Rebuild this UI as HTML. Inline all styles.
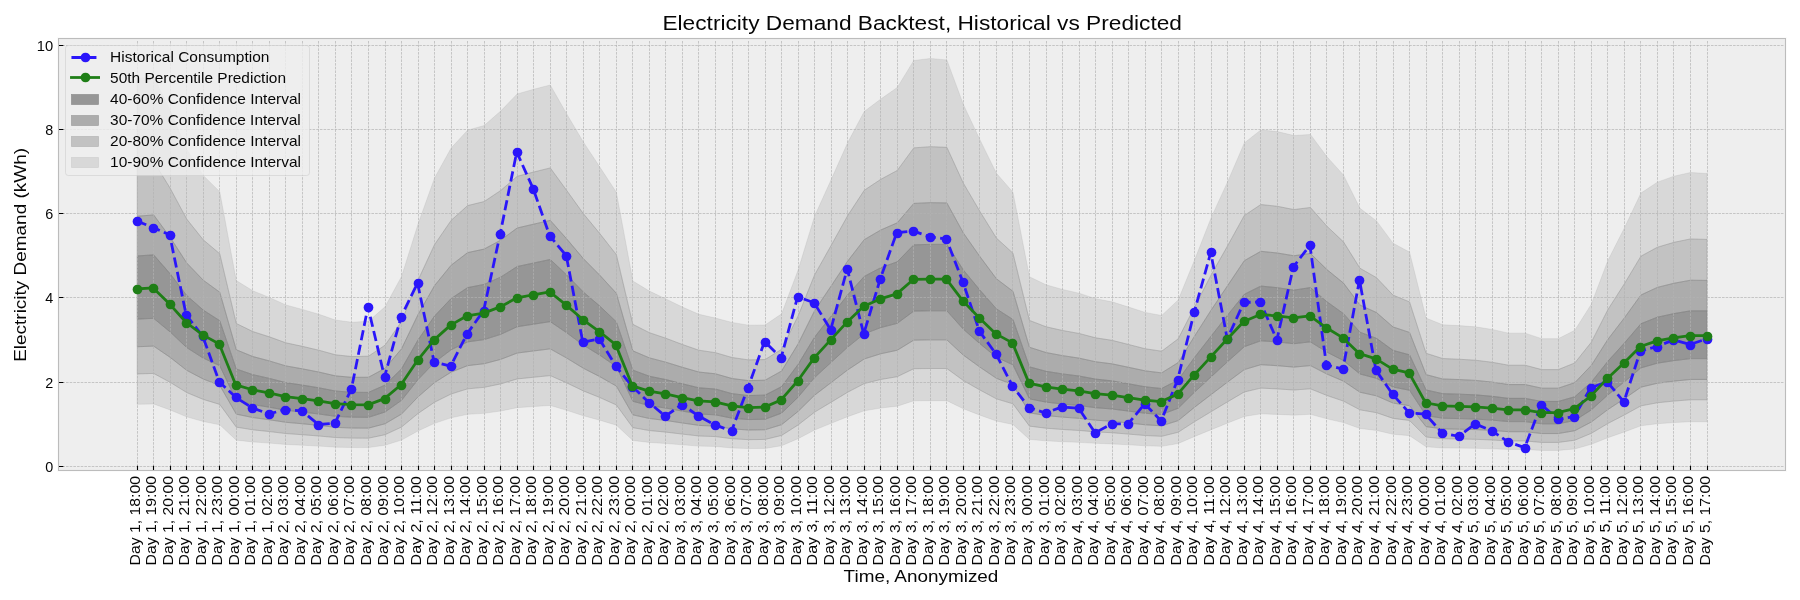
<!DOCTYPE html>
<html lang="en"><head><meta charset="utf-8"><title>Electricity Demand Backtest, Historical vs Predicted</title>
<style>html,body{margin:0;padding:0;background:#fff}body{width:1800px;height:600px;overflow:hidden}svg{display:block}text{font-family:"Liberation Sans",sans-serif;fill:#000}</style>
</head><body>
<svg width="1800" height="600" viewBox="0 0 1800 600">
<rect x="0" y="0" width="1800" height="600" fill="#fff"/>
<rect x="58" y="38" width="1728" height="433" fill="#eee"/>
<g fill="#808080" stroke="#808080" stroke-width="0.69" stroke-linejoin="miter">
<polygon fill-opacity="0.8" stroke-opacity="0.8" points="137.13,255.95 153.66,254.86 170.18,273.81 186.71,295.49 203.23,310.07 219.76,320.69 236.28,368.96 252.81,374.66 269.33,378.38 285.86,382.6 302.38,385.08 318.91,387.81 335.43,391.03 351.96,392.27 368.48,392.42 385.01,385.08 401.53,368.81 418.06,339.93 434.58,315.97 451.11,298.56 467.63,287.6 484.16,284.42 500.68,277.13 517.21,266.51 533.73,262.99 550.26,259.47 566.78,275 583.31,291.96 599.83,306.1 616.36,321.88 632.88,370.15 649.41,376.25 665.93,379.57 682.46,383.79 698.98,387.81 715.51,389 732.03,393.66 748.56,395.55 765.08,395.1 781.61,386.62 798.13,364.34 814.66,337.06 831.18,315.97 847.71,294.79 864.23,276.44 880.76,267.7 897.28,261.8 913.81,244.84 930.33,244.39 946.86,244.39 963.38,270.04 979.91,290.08 996.43,308.88 1012.96,319.5 1029.48,366.82 1046.01,371.29 1062.53,373.92 1079.06,376 1095.58,379.08 1112.11,380.86 1128.63,383.79 1145.16,386.77 1161.68,388.5 1178.21,379.77 1194.73,357.2 1211.26,335.97 1227.78,314.88 1244.31,294.3 1260.83,286.06 1277.36,287.7 1293.88,290.13 1310.41,287.55 1326.93,301.74 1343.46,313.64 1359.98,332.2 1376.51,338.3 1393.03,350.35 1409.56,354.82 1426.08,389.94 1442.61,393.66 1459.13,394.16 1475.66,394.85 1492.18,396.29 1508.71,398.37 1525.23,398.37 1541.76,401.45 1558.28,401.45 1574.81,396.74 1591.33,382.15 1607.86,361.27 1624.38,343.06 1640.91,323.76 1657.43,317.16 1673.96,313.59 1690.48,310.81 1707.01,310.81 1707.01,358.61 1690.48,358.61 1673.96,360.61 1657.43,363.18 1640.91,367.93 1624.38,381.82 1607.86,394.92 1591.33,409.95 1574.81,420.44 1558.28,423.83 1541.76,423.83 1525.23,421.62 1508.71,421.62 1492.18,420.12 1475.66,419.09 1459.13,418.59 1442.61,418.23 1426.08,415.55 1409.56,390.28 1393.03,387.06 1376.51,378.39 1359.98,374 1343.46,360.65 1326.93,352.08 1310.41,341.87 1293.88,343.72 1277.36,341.98 1260.83,340.8 1244.31,346.72 1227.78,361.54 1211.26,376.71 1194.73,391.99 1178.21,408.23 1161.68,414.52 1145.16,413.27 1128.63,411.13 1112.11,409.02 1095.58,407.73 1079.06,405.52 1062.53,404.02 1046.01,402.13 1029.48,398.92 1012.96,364.86 996.43,357.22 979.91,343.69 963.38,329.27 946.86,310.81 930.33,310.81 913.81,311.13 897.28,323.34 880.76,327.59 864.23,333.87 847.71,347.08 831.18,362.32 814.66,377.5 798.13,397.13 781.61,413.16 765.08,419.27 748.56,419.59 732.03,418.23 715.51,414.87 698.98,414.02 682.46,411.13 665.93,408.09 649.41,405.7 632.88,401.31 616.36,366.57 599.83,355.22 583.31,345.05 566.78,332.84 550.26,321.66 533.73,324.2 517.21,326.73 500.68,334.37 484.16,339.62 467.63,341.9 451.11,349.79 434.58,362.32 418.06,379.57 401.53,400.34 385.01,412.05 368.48,417.34 351.96,417.23 335.43,416.34 318.91,414.02 302.38,412.05 285.86,410.27 269.33,407.23 252.81,404.56 236.28,400.45 219.76,365.72 203.23,358.08 186.71,347.58 170.18,331.98 153.66,318.34 137.13,319.13"/>
<polygon fill-opacity="0.6" stroke-opacity="0.6" points="137.13,319.13 153.66,318.34 170.18,331.98 186.71,347.58 203.23,358.08 219.76,365.72 236.28,400.45 252.81,404.56 269.33,407.23 285.86,410.27 302.38,412.05 318.91,414.02 335.43,416.34 351.96,417.23 368.48,417.34 385.01,412.05 401.53,400.34 418.06,379.57 434.58,362.32 451.11,349.79 467.63,341.9 484.16,339.62 500.68,334.37 517.21,326.73 533.73,324.2 550.26,321.66 566.78,332.84 583.31,345.05 599.83,355.22 616.36,366.57 632.88,401.31 649.41,405.7 665.93,408.09 682.46,411.13 698.98,414.02 715.51,414.87 732.03,418.23 748.56,419.59 765.08,419.27 781.61,413.16 798.13,397.13 814.66,377.5 831.18,362.32 847.71,347.08 864.23,333.87 880.76,327.59 897.28,323.34 913.81,311.13 930.33,310.81 946.86,310.81 963.38,329.27 979.91,343.69 996.43,357.22 1012.96,364.86 1029.48,398.92 1046.01,402.13 1062.53,404.02 1079.06,405.52 1095.58,407.73 1112.11,409.02 1128.63,411.13 1145.16,413.27 1161.68,414.52 1178.21,408.23 1194.73,391.99 1211.26,376.71 1227.78,361.54 1244.31,346.72 1260.83,340.8 1277.36,341.98 1293.88,343.72 1310.41,341.87 1326.93,352.08 1343.46,360.65 1359.98,374 1376.51,378.39 1393.03,387.06 1409.56,390.28 1426.08,415.55 1442.61,418.23 1459.13,418.59 1475.66,419.09 1492.18,420.12 1508.71,421.62 1525.23,421.62 1541.76,423.83 1558.28,423.83 1574.81,420.44 1591.33,409.95 1607.86,394.92 1624.38,381.82 1640.91,367.93 1657.43,363.18 1673.96,360.61 1690.48,358.61 1707.01,358.61 1707.01,379.48 1690.48,379.48 1673.96,381.13 1657.43,383.26 1640.91,387.2 1624.38,398.71 1607.86,409.57 1591.33,422.03 1574.81,430.72 1558.28,433.54 1541.76,433.54 1525.23,431.7 1508.71,431.7 1492.18,430.46 1475.66,429.6 1459.13,429.19 1442.61,428.89 1426.08,426.67 1409.56,405.72 1393.03,403.06 1376.51,395.87 1359.98,392.23 1343.46,381.16 1326.93,374.06 1310.41,365.6 1293.88,367.14 1277.36,365.69 1260.83,364.71 1244.31,369.62 1227.78,381.9 1211.26,394.48 1194.73,407.14 1178.21,420.61 1161.68,425.81 1145.16,424.78 1128.63,423 1112.11,421.26 1095.58,420.19 1079.06,418.36 1062.53,417.11 1046.01,415.55 1029.48,412.88 1012.96,384.66 996.43,378.32 979.91,367.11 963.38,355.16 946.86,339.86 930.33,339.86 913.81,340.13 897.28,350.24 880.76,353.77 864.23,358.97 847.71,369.92 831.18,382.55 814.66,395.13 798.13,411.4 781.61,424.69 765.08,429.75 748.56,430.01 732.03,428.89 715.51,426.11 698.98,425.4 682.46,423 665.93,420.49 649.41,418.5 632.88,414.87 616.36,386.08 599.83,376.67 583.31,368.23 566.78,358.11 550.26,348.85 533.73,350.95 517.21,353.06 500.68,359.39 484.16,363.74 467.63,365.63 451.11,372.17 434.58,382.55 418.06,396.85 401.53,414.07 385.01,423.77 368.48,428.15 351.96,428.06 335.43,427.32 318.91,425.4 302.38,423.77 285.86,422.29 269.33,419.78 252.81,417.56 236.28,414.15 219.76,385.37 203.23,379.03 186.71,370.33 170.18,357.4 153.66,346.1 137.13,346.75"/>
<polygon fill-opacity="0.6" stroke-opacity="0.6" points="137.13,216.23 153.66,214.94 170.18,237.33 186.71,262.95 203.23,280.19 219.76,292.23 236.28,349.78 252.81,356.52 269.33,360.92 285.86,365.9 302.38,368.83 318.91,372.06 335.43,375.87 351.96,377.34 368.48,377.26 385.01,368.33 401.53,348.85 418.06,314.56 434.58,285.56 451.11,265.24 467.63,252.62 484.16,249.08 500.68,240.16 517.21,227.99 533.73,224.15 550.26,220.39 566.78,238.99 583.31,258.57 599.83,275.25 616.36,293.3 632.88,350.85 649.41,357.89 665.93,362.21 682.46,367.31 698.98,372.06 715.51,373.8 732.03,378.51 748.56,380.62 765.08,380.21 781.61,370.99 798.13,343.86 814.66,310.57 831.18,285.9 847.71,261.04 864.23,239.68 880.76,230 897.28,222.81 913.81,203.43 930.33,202.65 946.86,202.94 963.38,233.01 979.91,256.56 996.43,278.78 1012.96,291.33 1029.48,347.26 1046.01,352.54 1062.53,355.64 1079.06,358.11 1095.58,361.74 1112.11,363.85 1128.63,367.31 1145.16,370.83 1161.68,372.88 1178.21,362.56 1194.73,335.89 1211.26,309.95 1227.78,285.37 1244.31,260.7 1260.83,251.31 1277.36,252.99 1293.88,255.78 1310.41,253.44 1326.93,269.58 1343.46,283.06 1359.98,305.01 1376.51,312.56 1393.03,326.95 1409.56,332.43 1426.08,374.58 1442.61,378.98 1459.13,379.56 1475.66,380.38 1492.18,382.08 1508.71,384.55 1525.23,384.55 1541.76,388.18 1558.28,388.18 1574.81,382.61 1591.33,365.38 1607.86,339.43 1624.38,317.91 1640.91,295.02 1657.43,287.39 1673.96,283.26 1690.48,280.23 1707.01,280.43 1707.01,310.81 1690.48,310.81 1673.96,313.59 1657.43,317.16 1640.91,323.76 1624.38,343.06 1607.86,361.27 1591.33,382.15 1574.81,396.74 1558.28,401.45 1541.76,401.45 1525.23,398.37 1508.71,398.37 1492.18,396.29 1475.66,394.85 1459.13,394.16 1442.61,393.66 1426.08,389.94 1409.56,354.82 1393.03,350.35 1376.51,338.3 1359.98,332.2 1343.46,313.64 1326.93,301.74 1310.41,287.55 1293.88,290.13 1277.36,287.7 1260.83,286.06 1244.31,294.3 1227.78,314.88 1211.26,335.97 1194.73,357.2 1178.21,379.77 1161.68,388.5 1145.16,386.77 1128.63,383.79 1112.11,380.86 1095.58,379.08 1079.06,376 1062.53,373.92 1046.01,371.29 1029.48,366.82 1012.96,319.5 996.43,308.88 979.91,290.08 963.38,270.04 946.86,244.39 930.33,244.39 913.81,244.84 897.28,261.8 880.76,267.7 864.23,276.44 847.71,294.79 831.18,315.97 814.66,337.06 798.13,364.34 781.61,386.62 765.08,395.1 748.56,395.55 732.03,393.66 715.51,389 698.98,387.81 682.46,383.79 665.93,379.57 649.41,376.25 632.88,370.15 616.36,321.88 599.83,306.1 583.31,291.96 566.78,275 550.26,259.47 533.73,262.99 517.21,266.51 500.68,277.13 484.16,284.42 467.63,287.6 451.11,298.56 434.58,315.97 418.06,339.93 401.53,368.81 385.01,385.08 368.48,392.42 351.96,392.27 335.43,391.03 318.91,387.81 302.38,385.08 285.86,382.6 269.33,378.38 252.81,374.66 236.28,368.96 219.76,320.69 203.23,310.07 186.71,295.49 170.18,273.81 153.66,254.86 137.13,255.95"/>
<polygon fill-opacity="0.4" stroke-opacity="0.4" points="137.13,346.75 153.66,346.1 170.18,357.4 186.71,370.33 203.23,379.03 219.76,385.37 236.28,414.15 252.81,417.56 269.33,419.78 285.86,422.29 302.38,423.77 318.91,425.4 335.43,427.32 351.96,428.06 368.48,428.15 385.01,423.77 401.53,414.07 418.06,396.85 434.58,382.55 451.11,372.17 467.63,365.63 484.16,363.74 500.68,359.39 517.21,353.06 533.73,350.95 550.26,348.85 566.78,358.11 583.31,368.23 599.83,376.67 616.36,386.08 632.88,414.87 649.41,418.5 665.93,420.49 682.46,423 698.98,425.4 715.51,426.11 732.03,428.89 748.56,430.01 765.08,429.75 781.61,424.69 798.13,411.4 814.66,395.13 831.18,382.55 847.71,369.92 864.23,358.97 880.76,353.77 897.28,350.24 913.81,340.13 930.33,339.86 946.86,339.86 963.38,355.16 979.91,367.11 996.43,378.32 1012.96,384.66 1029.48,412.88 1046.01,415.55 1062.53,417.11 1079.06,418.36 1095.58,420.19 1112.11,421.26 1128.63,423 1145.16,424.78 1161.68,425.81 1178.21,420.61 1194.73,407.14 1211.26,394.48 1227.78,381.9 1244.31,369.62 1260.83,364.71 1277.36,365.69 1293.88,367.14 1310.41,365.6 1326.93,374.06 1343.46,381.16 1359.98,392.23 1376.51,395.87 1393.03,403.06 1409.56,405.72 1426.08,426.67 1442.61,428.89 1459.13,429.19 1475.66,429.6 1492.18,430.46 1508.71,431.7 1525.23,431.7 1541.76,433.54 1558.28,433.54 1574.81,430.72 1591.33,422.03 1607.86,409.57 1624.38,398.71 1640.91,387.2 1657.43,383.26 1673.96,381.13 1690.48,379.48 1707.01,379.48 1707.01,399.77 1690.48,399.77 1673.96,401.07 1657.43,402.75 1640.91,405.86 1624.38,414.94 1607.86,423.51 1591.33,433.34 1574.81,440.21 1558.28,442.43 1541.76,442.43 1525.23,440.98 1508.71,440.98 1492.18,440 1475.66,439.32 1459.13,438.99 1442.61,438.76 1426.08,437.01 1409.56,420.48 1393.03,418.38 1376.51,412.7 1359.98,409.83 1343.46,401.1 1326.93,395.49 1310.41,388.81 1293.88,390.03 1277.36,388.88 1260.83,388.11 1244.31,391.99 1227.78,401.68 1211.26,411.6 1194.73,421.6 1178.21,432.22 1161.68,436.33 1145.16,435.52 1128.63,434.11 1112.11,432.74 1095.58,431.9 1079.06,430.45 1062.53,429.47 1046.01,428.23 1029.48,426.13 1012.96,403.85 996.43,398.86 979.91,390.01 963.38,380.57 946.86,368.5 930.33,368.5 913.81,368.71 897.28,376.7 880.76,379.47 864.23,383.58 847.71,392.22 831.18,402.19 814.66,412.12 798.13,424.96 781.61,435.45 765.08,439.44 748.56,439.65 732.03,438.76 715.51,436.57 698.98,436.01 682.46,434.11 665.93,432.13 649.41,430.56 632.88,427.69 616.36,404.97 599.83,397.55 583.31,390.89 566.78,382.91 550.26,375.6 533.73,377.26 517.21,378.91 500.68,383.91 484.16,387.34 467.63,388.84 451.11,394 434.58,402.19 418.06,413.47 401.53,427.06 385.01,434.72 368.48,438.18 351.96,438.11 335.43,437.52 318.91,436.01 302.38,434.72 285.86,433.55 269.33,431.57 252.81,429.82 236.28,427.13 219.76,404.41 203.23,399.42 186.71,392.55 170.18,382.35 153.66,373.43 137.13,373.94"/>
<polygon fill-opacity="0.4" stroke-opacity="0.4" points="137.13,162.91 153.66,161.36 170.18,188.28 186.71,219.07 203.23,239.79 219.76,253.73 236.28,323.44 252.81,331.55 269.33,336.83 285.86,342.82 302.38,346.34 318.91,350.22 335.43,354.8 351.96,356.56 368.48,356.21 385.01,345.21 401.53,321.52 418.06,280.13 434.58,244.57 451.11,220.41 467.63,205.59 484.16,201.55 500.68,190.53 517.21,176.29 533.73,172.02 550.26,167.91 566.78,190.54 583.31,213.58 599.83,233.58 616.36,254.67 632.88,324.37 649.41,332.66 665.93,338.26 682.46,344.51 698.98,350.22 715.51,352.67 732.03,357.49 748.56,359.89 765.08,359.54 781.61,349.29 798.13,315.83 814.66,274.71 831.18,245.33 847.71,215.62 864.23,190.3 880.76,179.34 897.28,170.46 913.81,147.88 930.33,146.68 946.86,147.34 963.38,183.22 979.91,211.39 996.43,238.1 1012.96,253.18 1029.48,320.41 1046.01,326.75 1062.53,330.49 1079.06,333.45 1095.58,337.82 1112.11,340.35 1128.63,344.51 1145.16,348.74 1161.68,351.21 1178.21,338.8 1194.73,306.74 1211.26,274.68 1227.78,245.49 1244.31,215.48 1260.83,204.54 1277.36,206.3 1293.88,209.56 1310.41,207.49 1326.93,226.24 1343.46,241.83 1359.98,268.24 1376.51,277.67 1393.03,295.12 1409.56,301.92 1426.08,353.25 1442.61,358.54 1459.13,359.24 1475.66,360.23 1492.18,362.27 1508.71,365.23 1525.23,365.23 1541.76,369.6 1558.28,369.6 1574.81,362.91 1591.33,342.19 1607.86,309.67 1624.38,283.81 1640.91,256.21 1657.43,247.21 1673.96,242.33 1690.48,238.95 1707.01,239.41 1707.01,280.43 1690.48,280.23 1673.96,283.26 1657.43,287.39 1640.91,295.02 1624.38,317.91 1607.86,339.43 1591.33,365.38 1574.81,382.61 1558.28,388.18 1541.76,388.18 1525.23,384.55 1508.71,384.55 1492.18,382.08 1475.66,380.38 1459.13,379.56 1442.61,378.98 1426.08,374.58 1409.56,332.43 1393.03,326.95 1376.51,312.56 1359.98,305.01 1343.46,283.06 1326.93,269.58 1310.41,253.44 1293.88,255.78 1277.36,252.99 1260.83,251.31 1244.31,260.7 1227.78,285.37 1211.26,309.95 1194.73,335.89 1178.21,362.56 1161.68,372.88 1145.16,370.83 1128.63,367.31 1112.11,363.85 1095.58,361.74 1079.06,358.11 1062.53,355.64 1046.01,352.54 1029.48,347.26 1012.96,291.33 996.43,278.78 979.91,256.56 963.38,233.01 946.86,202.94 930.33,202.65 913.81,203.43 897.28,222.81 880.76,230 864.23,239.68 847.71,261.04 831.18,285.9 814.66,310.57 798.13,343.86 781.61,370.99 765.08,380.21 748.56,380.62 732.03,378.51 715.51,373.8 698.98,372.06 682.46,367.31 665.93,362.21 649.41,357.89 632.88,350.85 616.36,293.3 599.83,275.25 583.31,258.57 566.78,238.99 550.26,220.39 533.73,224.15 517.21,227.99 500.68,240.16 484.16,249.08 467.63,252.62 451.11,265.24 434.58,285.56 418.06,314.56 401.53,348.85 385.01,368.33 368.48,377.26 351.96,377.34 335.43,375.87 318.91,372.06 302.38,368.83 285.86,365.9 269.33,360.92 252.81,356.52 236.28,349.78 219.76,292.23 203.23,280.19 186.71,262.95 170.18,237.33 153.66,214.94 137.13,216.23"/>
<polygon fill-opacity="0.2" stroke-opacity="0.2" points="137.13,373.94 153.66,373.43 170.18,382.35 186.71,392.55 203.23,399.42 219.76,404.41 236.28,427.13 252.81,429.82 269.33,431.57 285.86,433.55 302.38,434.72 318.91,436.01 335.43,437.52 351.96,438.11 368.48,438.18 385.01,434.72 401.53,427.06 418.06,413.47 434.58,402.19 451.11,394 467.63,388.84 484.16,387.34 500.68,383.91 517.21,378.91 533.73,377.26 550.26,375.6 566.78,382.91 583.31,390.89 599.83,397.55 616.36,404.97 632.88,427.69 649.41,430.56 665.93,432.13 682.46,434.11 698.98,436.01 715.51,436.57 732.03,438.76 748.56,439.65 765.08,439.44 781.61,435.45 798.13,424.96 814.66,412.12 831.18,402.19 847.71,392.22 864.23,383.58 880.76,379.47 897.28,376.7 913.81,368.71 930.33,368.5 946.86,368.5 963.38,380.57 979.91,390.01 996.43,398.86 1012.96,403.85 1029.48,426.13 1046.01,428.23 1062.53,429.47 1079.06,430.45 1095.58,431.9 1112.11,432.74 1128.63,434.11 1145.16,435.52 1161.68,436.33 1178.21,432.22 1194.73,421.6 1211.26,411.6 1227.78,401.68 1244.31,391.99 1260.83,388.11 1277.36,388.88 1293.88,390.03 1310.41,388.81 1326.93,395.49 1343.46,401.1 1359.98,409.83 1376.51,412.7 1393.03,418.38 1409.56,420.48 1426.08,437.01 1442.61,438.76 1459.13,438.99 1475.66,439.32 1492.18,440 1508.71,440.98 1525.23,440.98 1541.76,442.43 1558.28,442.43 1574.81,440.21 1591.33,433.34 1607.86,423.51 1624.38,414.94 1640.91,405.86 1657.43,402.75 1673.96,401.07 1690.48,399.77 1707.01,399.77 1707.01,421.71 1690.48,421.71 1673.96,422.59 1657.43,423.72 1640.91,425.81 1624.38,431.93 1607.86,437.7 1591.33,444.31 1574.81,448.94 1558.28,450.43 1541.76,450.43 1525.23,449.45 1508.71,449.45 1492.18,448.79 1475.66,448.34 1459.13,448.12 1442.61,447.96 1426.08,446.78 1409.56,435.65 1393.03,434.24 1376.51,430.42 1359.98,428.48 1343.46,422.6 1326.93,418.83 1310.41,414.33 1293.88,415.15 1277.36,414.38 1260.83,413.86 1244.31,416.47 1227.78,423 1211.26,429.68 1194.73,436.41 1178.21,443.56 1161.68,446.33 1145.16,445.78 1128.63,444.83 1112.11,443.91 1095.58,443.34 1079.06,442.36 1062.53,441.7 1046.01,440.87 1029.48,439.46 1012.96,424.46 996.43,421.09 979.91,415.14 963.38,408.78 946.86,400.66 930.33,400.66 913.81,400.8 897.28,406.17 880.76,408.04 864.23,410.81 847.71,416.63 831.18,423.34 814.66,430.02 798.13,438.67 781.61,445.73 765.08,448.42 748.56,448.56 732.03,447.96 715.51,446.48 698.98,446.11 682.46,444.83 665.93,443.5 649.41,442.44 632.88,440.51 616.36,425.21 599.83,420.21 583.31,415.73 566.78,410.36 550.26,405.44 533.73,406.55 517.21,407.67 500.68,411.03 484.16,413.34 467.63,414.35 451.11,417.82 434.58,423.34 418.06,430.94 401.53,440.08 385.01,445.24 368.48,447.57 351.96,447.52 335.43,447.13 318.91,446.11 302.38,445.24 285.86,444.46 269.33,443.12 252.81,441.94 236.28,440.13 219.76,424.84 203.23,421.47 186.71,416.85 170.18,409.98 153.66,403.97 137.13,404.32"/>
<polygon fill-opacity="0.2" stroke-opacity="0.2" points="137.13,78.67 153.66,76.72 170.18,110.58 186.71,149.32 203.23,175.38 219.76,191.82 236.28,280.59 252.81,290.78 269.33,297.43 285.86,304.97 302.38,309.4 318.91,314.27 335.43,320.03 351.96,322.25 368.48,321.25 385.01,306.87 401.53,276.53 418.06,224.1 434.58,177.92 451.11,148.07 467.63,130.17 484.16,125.55 500.68,111.04 517.21,93.93 533.73,89.28 550.26,84.97 566.78,113.97 583.31,141.93 599.83,167.02 616.36,192.26 632.88,281.03 649.41,291.09 665.93,298.97 682.46,307.09 698.98,314.27 715.51,318.09 732.03,322.41 748.56,325.15 765.08,324.98 781.61,313.83 798.13,269.99 814.66,216.01 831.18,179.6 847.71,142.6 864.23,111.49 880.76,99.09 897.28,87.45 913.81,60.5 930.33,58.44 946.86,59.92 963.38,104.52 979.91,139.66 996.43,173.25 1012.96,192.22 1029.48,276.78 1046.01,284.76 1062.53,289.45 1079.06,293.18 1095.58,298.67 1112.11,301.86 1128.63,307.09 1145.16,312.41 1161.68,315.51 1178.21,299.91 1194.73,259.58 1211.26,217.43 1227.78,181.45 1244.31,142.97 1260.83,129.95 1277.36,131.61 1293.88,135.53 1310.41,134.46 1326.93,156.69 1343.46,175.01 1359.98,208.29 1376.51,220.88 1393.03,243.14 1409.56,252.12 1426.08,318.08 1442.61,324.73 1459.13,325.62 1475.66,326.86 1492.18,329.43 1508.71,333.15 1525.23,333.15 1541.76,338.65 1558.28,338.65 1574.81,330.23 1591.33,304.17 1607.86,260.53 1624.38,228 1640.91,193.1 1657.43,182.15 1673.96,176.19 1690.48,172.49 1707.01,173.5 1707.01,239.41 1690.48,238.95 1673.96,242.33 1657.43,247.21 1640.91,256.21 1624.38,283.81 1607.86,309.67 1591.33,342.19 1574.81,362.91 1558.28,369.6 1541.76,369.6 1525.23,365.23 1508.71,365.23 1492.18,362.27 1475.66,360.23 1459.13,359.24 1442.61,358.54 1426.08,353.25 1409.56,301.92 1393.03,295.12 1376.51,277.67 1359.98,268.24 1343.46,241.83 1326.93,226.24 1310.41,207.49 1293.88,209.56 1277.36,206.3 1260.83,204.54 1244.31,215.48 1227.78,245.49 1211.26,274.68 1194.73,306.74 1178.21,338.8 1161.68,351.21 1145.16,348.74 1128.63,344.51 1112.11,340.35 1095.58,337.82 1079.06,333.45 1062.53,330.49 1046.01,326.75 1029.48,320.41 1012.96,253.18 996.43,238.1 979.91,211.39 963.38,183.22 946.86,147.34 930.33,146.68 913.81,147.88 897.28,170.46 880.76,179.34 864.23,190.3 847.71,215.62 831.18,245.33 814.66,274.71 798.13,315.83 781.61,349.29 765.08,359.54 748.56,359.89 732.03,357.49 715.51,352.67 698.98,350.22 682.46,344.51 665.93,338.26 649.41,332.66 632.88,324.37 616.36,254.67 599.83,233.58 583.31,213.58 566.78,190.54 550.26,167.91 533.73,172.02 517.21,176.29 500.68,190.53 484.16,201.55 467.63,205.59 451.11,220.41 434.58,244.57 418.06,280.13 401.53,321.52 385.01,345.21 368.48,356.21 351.96,356.56 335.43,354.8 318.91,350.22 302.38,346.34 285.86,342.82 269.33,336.83 252.81,331.55 236.28,323.44 219.76,253.73 203.23,239.79 186.71,219.07 170.18,188.28 153.66,161.36 137.13,162.91"/>
</g>
<g stroke="#b2b2b2" stroke-width="0.69" stroke-dasharray="2.57 1.11" fill="none">
<path d="M137.5 470.45V37.9M153.5 470.45V37.9M170.5 470.45V37.9M186.5 470.45V37.9M203.5 470.45V37.9M219.5 470.45V37.9M236.5 470.45V37.9M252.5 470.45V37.9M269.5 470.45V37.9M285.5 470.45V37.9M302.5 470.45V37.9M318.5 470.45V37.9M335.5 470.45V37.9M351.5 470.45V37.9M368.5 470.45V37.9M385.5 470.45V37.9M401.5 470.45V37.9M418.5 470.45V37.9M434.5 470.45V37.9M451.5 470.45V37.9M467.5 470.45V37.9M484.5 470.45V37.9M500.5 470.45V37.9M517.5 470.45V37.9M533.5 470.45V37.9M550.5 470.45V37.9M566.5 470.45V37.9M583.5 470.45V37.9M599.5 470.45V37.9M616.5 470.45V37.9M632.5 470.45V37.9M649.5 470.45V37.9M665.5 470.45V37.9M682.5 470.45V37.9M698.5 470.45V37.9M715.5 470.45V37.9M732.5 470.45V37.9M748.5 470.45V37.9M765.5 470.45V37.9M781.5 470.45V37.9M798.5 470.45V37.9M814.5 470.45V37.9M831.5 470.45V37.9M847.5 470.45V37.9M864.5 470.45V37.9M880.5 470.45V37.9M897.5 470.45V37.9M913.5 470.45V37.9M930.5 470.45V37.9M946.5 470.45V37.9M963.5 470.45V37.9M979.5 470.45V37.9M996.5 470.45V37.9M1012.5 470.45V37.9M1029.5 470.45V37.9M1046.5 470.45V37.9M1062.5 470.45V37.9M1079.5 470.45V37.9M1095.5 470.45V37.9M1112.5 470.45V37.9M1128.5 470.45V37.9M1145.5 470.45V37.9M1161.5 470.45V37.9M1178.5 470.45V37.9M1194.5 470.45V37.9M1211.5 470.45V37.9M1227.5 470.45V37.9M1244.5 470.45V37.9M1260.5 470.45V37.9M1277.5 470.45V37.9M1293.5 470.45V37.9M1310.5 470.45V37.9M1326.5 470.45V37.9M1343.5 470.45V37.9M1359.5 470.45V37.9M1376.5 470.45V37.9M1393.5 470.45V37.9M1409.5 470.45V37.9M1426.5 470.45V37.9M1442.5 470.45V37.9M1459.5 470.45V37.9M1475.5 470.45V37.9M1492.5 470.45V37.9M1508.5 470.45V37.9M1525.5 470.45V37.9M1541.5 470.45V37.9M1558.5 470.45V37.9M1574.5 470.45V37.9M1591.5 470.45V37.9M1607.5 470.45V37.9M1624.5 470.45V37.9M1640.5 470.45V37.9M1657.5 470.45V37.9M1673.5 470.45V37.9M1690.5 470.45V37.9M1707.5 470.45V37.9M58.65 466.5H1785M58.65 382.5H1785M58.65 297.5H1785M58.65 213.5H1785M58.65 129.5H1785M58.65 45.5H1785"/>
</g>
<path d="M136.63 221.05L153.16 227.5L169.68 234.88L186.21 315.08L202.73 336.24L219.26 381.76L235.78 397.36L252.31 407.94L268.83 413.92L285.36 409.54L301.88 410.93L318.41 424.54L334.93 423.15L351.46 388.72L367.98 306.91L384.51 376.92L401.03 316.9L417.56 283.01L434.08 361.95L450.61 366.17L467.13 333.71L483.66 310.53L500.18 233.86L516.71 152.05L533.23 188.85L549.76 235.89L566.28 255.74L582.81 342.1L599.33 338.9L615.86 366.17L632.38 386.53L648.91 402.54L665.43 416.16L681.96 404.52L698.48 415.95L715.01 424.92L731.53 430.95L748.06 387.54L764.58 341.51L781.11 357.74L797.63 296.71L814.16 302.82L830.68 329.71L847.21 268.89L863.73 333.88L880.26 278.88L896.78 232.56L913.31 231.08L929.83 236.77L946.36 239.05L962.88 281.87L979.41 331.19L995.93 353.9L1012.46 385.94L1028.98 407.52L1045.51 412.95L1062.03 406.93L1078.56 408.15L1095.08 432.76L1111.61 423.95L1128.13 423.95L1144.66 403.76L1161.18 420.96L1177.71 379.53L1194.23 312.09L1210.76 252.45L1227.28 338.9L1243.81 302.48L1260.33 301.89L1276.86 339.91L1293.38 266.87L1309.91 245.2L1326.43 364.9L1342.96 369.12L1359.48 279.89L1376.01 370.38L1392.53 394.11L1409.06 412.74L1425.58 414.22L1442.11 433.06L1458.63 436.26L1475.16 423.95L1491.68 430.53L1508.21 441.95L1524.73 447.56L1541.26 404.52L1557.78 419.15L1574.31 416.54L1590.83 387.54L1607.36 381.93L1623.88 401.95L1640.41 350.91L1656.93 346.53L1673.46 339.91L1689.98 344.5L1706.51 338.9" fill="none" stroke="rgb(42,22,250)" stroke-width="2.78" stroke-dasharray="10.28 4.44" stroke-linejoin="round"/>
<g fill="rgb(42,22,250)">
<circle cx="137.5" cy="221.5" r="4.86"/>
<circle cx="153.5" cy="228.5" r="4.86"/>
<circle cx="170.5" cy="235.5" r="4.86"/>
<circle cx="186.5" cy="315.5" r="4.86"/>
<circle cx="203.5" cy="336.5" r="4.86"/>
<circle cx="219.5" cy="382.5" r="4.86"/>
<circle cx="236.5" cy="397.5" r="4.86"/>
<circle cx="252.5" cy="408.5" r="4.86"/>
<circle cx="269.5" cy="414.5" r="4.86"/>
<circle cx="285.5" cy="410.5" r="4.86"/>
<circle cx="302.5" cy="411.5" r="4.86"/>
<circle cx="318.5" cy="425.5" r="4.86"/>
<circle cx="335.5" cy="423.5" r="4.86"/>
<circle cx="351.5" cy="389.5" r="4.86"/>
<circle cx="368.5" cy="307.5" r="4.86"/>
<circle cx="385.5" cy="377.5" r="4.86"/>
<circle cx="401.5" cy="317.5" r="4.86"/>
<circle cx="418.5" cy="283.5" r="4.86"/>
<circle cx="434.5" cy="362.5" r="4.86"/>
<circle cx="451.5" cy="366.5" r="4.86"/>
<circle cx="467.5" cy="334.5" r="4.86"/>
<circle cx="484.5" cy="311.5" r="4.86"/>
<circle cx="500.5" cy="234.5" r="4.86"/>
<circle cx="517.5" cy="152.5" r="4.86"/>
<circle cx="533.5" cy="189.5" r="4.86"/>
<circle cx="550.5" cy="236.5" r="4.86"/>
<circle cx="566.5" cy="256.5" r="4.86"/>
<circle cx="583.5" cy="342.5" r="4.86"/>
<circle cx="599.5" cy="339.5" r="4.86"/>
<circle cx="616.5" cy="366.5" r="4.86"/>
<circle cx="632.5" cy="387.5" r="4.86"/>
<circle cx="649.5" cy="403.5" r="4.86"/>
<circle cx="665.5" cy="416.5" r="4.86"/>
<circle cx="682.5" cy="405.5" r="4.86"/>
<circle cx="698.5" cy="416.5" r="4.86"/>
<circle cx="715.5" cy="425.5" r="4.86"/>
<circle cx="732.5" cy="431.5" r="4.86"/>
<circle cx="748.5" cy="388.5" r="4.86"/>
<circle cx="765.5" cy="342.5" r="4.86"/>
<circle cx="781.5" cy="358.5" r="4.86"/>
<circle cx="798.5" cy="297.5" r="4.86"/>
<circle cx="814.5" cy="303.5" r="4.86"/>
<circle cx="831.5" cy="330.5" r="4.86"/>
<circle cx="847.5" cy="269.5" r="4.86"/>
<circle cx="864.5" cy="334.5" r="4.86"/>
<circle cx="880.5" cy="279.5" r="4.86"/>
<circle cx="897.5" cy="233.5" r="4.86"/>
<circle cx="913.5" cy="231.5" r="4.86"/>
<circle cx="930.5" cy="237.5" r="4.86"/>
<circle cx="946.5" cy="239.5" r="4.86"/>
<circle cx="963.5" cy="282.5" r="4.86"/>
<circle cx="979.5" cy="331.5" r="4.86"/>
<circle cx="996.5" cy="354.5" r="4.86"/>
<circle cx="1012.5" cy="386.5" r="4.86"/>
<circle cx="1029.5" cy="408.5" r="4.86"/>
<circle cx="1046.5" cy="413.5" r="4.86"/>
<circle cx="1062.5" cy="407.5" r="4.86"/>
<circle cx="1079.5" cy="408.5" r="4.86"/>
<circle cx="1095.5" cy="433.5" r="4.86"/>
<circle cx="1112.5" cy="424.5" r="4.86"/>
<circle cx="1128.5" cy="424.5" r="4.86"/>
<circle cx="1145.5" cy="404.5" r="4.86"/>
<circle cx="1161.5" cy="421.5" r="4.86"/>
<circle cx="1178.5" cy="380.5" r="4.86"/>
<circle cx="1194.5" cy="312.5" r="4.86"/>
<circle cx="1211.5" cy="252.5" r="4.86"/>
<circle cx="1227.5" cy="339.5" r="4.86"/>
<circle cx="1244.5" cy="302.5" r="4.86"/>
<circle cx="1260.5" cy="302.5" r="4.86"/>
<circle cx="1277.5" cy="340.5" r="4.86"/>
<circle cx="1293.5" cy="267.5" r="4.86"/>
<circle cx="1310.5" cy="245.5" r="4.86"/>
<circle cx="1326.5" cy="365.5" r="4.86"/>
<circle cx="1343.5" cy="369.5" r="4.86"/>
<circle cx="1359.5" cy="280.5" r="4.86"/>
<circle cx="1376.5" cy="370.5" r="4.86"/>
<circle cx="1393.5" cy="394.5" r="4.86"/>
<circle cx="1409.5" cy="413.5" r="4.86"/>
<circle cx="1426.5" cy="414.5" r="4.86"/>
<circle cx="1442.5" cy="433.5" r="4.86"/>
<circle cx="1459.5" cy="436.5" r="4.86"/>
<circle cx="1475.5" cy="424.5" r="4.86"/>
<circle cx="1492.5" cy="431.5" r="4.86"/>
<circle cx="1508.5" cy="442.5" r="4.86"/>
<circle cx="1525.5" cy="448.5" r="4.86"/>
<circle cx="1541.5" cy="405.5" r="4.86"/>
<circle cx="1558.5" cy="419.5" r="4.86"/>
<circle cx="1574.5" cy="417.5" r="4.86"/>
<circle cx="1591.5" cy="388.5" r="4.86"/>
<circle cx="1607.5" cy="382.5" r="4.86"/>
<circle cx="1624.5" cy="402.5" r="4.86"/>
<circle cx="1640.5" cy="351.5" r="4.86"/>
<circle cx="1657.5" cy="347.5" r="4.86"/>
<circle cx="1673.5" cy="340.5" r="4.86"/>
<circle cx="1690.5" cy="345.5" r="4.86"/>
<circle cx="1707.5" cy="339.5" r="4.86"/>
</g>
<path d="M136.63 288.91L153.16 287.98L169.68 304.08L186.21 322.5L202.73 334.89L219.26 343.91L235.78 384.92L252.31 389.77L268.83 392.93L285.36 396.52L301.88 398.62L318.41 400.94L334.93 403.68L351.46 404.73L367.98 404.86L384.51 398.62L401.03 384.8L417.56 360.27L434.08 339.91L450.61 325.12L467.13 315.8L483.66 313.1L500.18 306.91L516.71 297.89L533.23 294.9L549.76 291.9L566.28 305.1L582.81 319.51L599.33 331.52L615.86 344.93L632.38 385.94L648.91 391.12L665.43 393.94L681.96 397.53L698.48 400.94L715.01 401.95L731.53 405.91L748.06 407.52L764.58 407.14L781.11 399.93L797.63 381L814.16 357.82L830.68 339.91L847.21 321.91L863.73 306.32L880.26 298.9L896.78 293.88L913.31 279.47L929.83 279.09L946.36 279.09L962.88 300.88L979.41 317.91L995.93 333.88L1012.46 342.9L1028.98 383.11L1045.51 386.91L1062.03 389.14L1078.56 390.91L1095.08 393.52L1111.61 395.04L1128.13 397.53L1144.66 400.06L1161.18 401.53L1177.71 394.11L1194.23 374.94L1210.76 356.9L1227.28 338.98L1243.81 321.49L1260.33 314.49L1276.86 315.89L1293.38 317.95L1309.91 315.76L1326.43 327.81L1342.96 337.93L1359.48 353.69L1376.01 358.88L1392.53 369.12L1409.06 372.91L1425.58 402.75L1442.11 405.91L1458.63 406.34L1475.16 406.93L1491.68 408.15L1508.21 409.92L1524.73 409.92L1541.26 412.53L1557.78 412.53L1574.31 408.53L1590.83 396.14L1607.36 378.39L1623.88 362.92L1640.41 346.53L1656.93 340.92L1673.46 337.89L1689.98 335.53L1706.51 335.53" fill="none" stroke="rgb(30,126,22)" stroke-width="2.78" stroke-linejoin="round" stroke-linecap="square"/>
<g fill="rgb(30,126,22)">
<circle cx="137.5" cy="289.5" r="4.86"/>
<circle cx="153.5" cy="288.5" r="4.86"/>
<circle cx="170.5" cy="304.5" r="4.86"/>
<circle cx="186.5" cy="323.5" r="4.86"/>
<circle cx="203.5" cy="335.5" r="4.86"/>
<circle cx="219.5" cy="344.5" r="4.86"/>
<circle cx="236.5" cy="385.5" r="4.86"/>
<circle cx="252.5" cy="390.5" r="4.86"/>
<circle cx="269.5" cy="393.5" r="4.86"/>
<circle cx="285.5" cy="397.5" r="4.86"/>
<circle cx="302.5" cy="399.5" r="4.86"/>
<circle cx="318.5" cy="401.5" r="4.86"/>
<circle cx="335.5" cy="404.5" r="4.86"/>
<circle cx="351.5" cy="405.5" r="4.86"/>
<circle cx="368.5" cy="405.5" r="4.86"/>
<circle cx="385.5" cy="399.5" r="4.86"/>
<circle cx="401.5" cy="385.5" r="4.86"/>
<circle cx="418.5" cy="360.5" r="4.86"/>
<circle cx="434.5" cy="340.5" r="4.86"/>
<circle cx="451.5" cy="325.5" r="4.86"/>
<circle cx="467.5" cy="316.5" r="4.86"/>
<circle cx="484.5" cy="313.5" r="4.86"/>
<circle cx="500.5" cy="307.5" r="4.86"/>
<circle cx="517.5" cy="298.5" r="4.86"/>
<circle cx="533.5" cy="295.5" r="4.86"/>
<circle cx="550.5" cy="292.5" r="4.86"/>
<circle cx="566.5" cy="305.5" r="4.86"/>
<circle cx="583.5" cy="320.5" r="4.86"/>
<circle cx="599.5" cy="332.5" r="4.86"/>
<circle cx="616.5" cy="345.5" r="4.86"/>
<circle cx="632.5" cy="386.5" r="4.86"/>
<circle cx="649.5" cy="391.5" r="4.86"/>
<circle cx="665.5" cy="394.5" r="4.86"/>
<circle cx="682.5" cy="398.5" r="4.86"/>
<circle cx="698.5" cy="401.5" r="4.86"/>
<circle cx="715.5" cy="402.5" r="4.86"/>
<circle cx="732.5" cy="406.5" r="4.86"/>
<circle cx="748.5" cy="408.5" r="4.86"/>
<circle cx="765.5" cy="407.5" r="4.86"/>
<circle cx="781.5" cy="400.5" r="4.86"/>
<circle cx="798.5" cy="381.5" r="4.86"/>
<circle cx="814.5" cy="358.5" r="4.86"/>
<circle cx="831.5" cy="340.5" r="4.86"/>
<circle cx="847.5" cy="322.5" r="4.86"/>
<circle cx="864.5" cy="306.5" r="4.86"/>
<circle cx="880.5" cy="299.5" r="4.86"/>
<circle cx="897.5" cy="294.5" r="4.86"/>
<circle cx="913.5" cy="279.5" r="4.86"/>
<circle cx="930.5" cy="279.5" r="4.86"/>
<circle cx="946.5" cy="279.5" r="4.86"/>
<circle cx="963.5" cy="301.5" r="4.86"/>
<circle cx="979.5" cy="318.5" r="4.86"/>
<circle cx="996.5" cy="334.5" r="4.86"/>
<circle cx="1012.5" cy="343.5" r="4.86"/>
<circle cx="1029.5" cy="383.5" r="4.86"/>
<circle cx="1046.5" cy="387.5" r="4.86"/>
<circle cx="1062.5" cy="389.5" r="4.86"/>
<circle cx="1079.5" cy="391.5" r="4.86"/>
<circle cx="1095.5" cy="394.5" r="4.86"/>
<circle cx="1112.5" cy="395.5" r="4.86"/>
<circle cx="1128.5" cy="398.5" r="4.86"/>
<circle cx="1145.5" cy="400.5" r="4.86"/>
<circle cx="1161.5" cy="402.5" r="4.86"/>
<circle cx="1178.5" cy="394.5" r="4.86"/>
<circle cx="1194.5" cy="375.5" r="4.86"/>
<circle cx="1211.5" cy="357.5" r="4.86"/>
<circle cx="1227.5" cy="339.5" r="4.86"/>
<circle cx="1244.5" cy="321.5" r="4.86"/>
<circle cx="1260.5" cy="314.5" r="4.86"/>
<circle cx="1277.5" cy="316.5" r="4.86"/>
<circle cx="1293.5" cy="318.5" r="4.86"/>
<circle cx="1310.5" cy="316.5" r="4.86"/>
<circle cx="1326.5" cy="328.5" r="4.86"/>
<circle cx="1343.5" cy="338.5" r="4.86"/>
<circle cx="1359.5" cy="354.5" r="4.86"/>
<circle cx="1376.5" cy="359.5" r="4.86"/>
<circle cx="1393.5" cy="369.5" r="4.86"/>
<circle cx="1409.5" cy="373.5" r="4.86"/>
<circle cx="1426.5" cy="403.5" r="4.86"/>
<circle cx="1442.5" cy="406.5" r="4.86"/>
<circle cx="1459.5" cy="406.5" r="4.86"/>
<circle cx="1475.5" cy="407.5" r="4.86"/>
<circle cx="1492.5" cy="408.5" r="4.86"/>
<circle cx="1508.5" cy="410.5" r="4.86"/>
<circle cx="1525.5" cy="410.5" r="4.86"/>
<circle cx="1541.5" cy="413.5" r="4.86"/>
<circle cx="1558.5" cy="413.5" r="4.86"/>
<circle cx="1574.5" cy="409.5" r="4.86"/>
<circle cx="1591.5" cy="396.5" r="4.86"/>
<circle cx="1607.5" cy="378.5" r="4.86"/>
<circle cx="1624.5" cy="363.5" r="4.86"/>
<circle cx="1640.5" cy="347.5" r="4.86"/>
<circle cx="1657.5" cy="341.5" r="4.86"/>
<circle cx="1673.5" cy="338.5" r="4.86"/>
<circle cx="1690.5" cy="336.5" r="4.86"/>
<circle cx="1707.5" cy="336.5" r="4.86"/>
</g>
<rect x="59.5" y="39.5" width="1725" height="430" stroke="#ebebeb" fill="none"/>
<path d="M137.5 470.5V465.64M153.5 470.5V465.64M170.5 470.5V465.64M186.5 470.5V465.64M203.5 470.5V465.64M219.5 470.5V465.64M236.5 470.5V465.64M252.5 470.5V465.64M269.5 470.5V465.64M285.5 470.5V465.64M302.5 470.5V465.64M318.5 470.5V465.64M335.5 470.5V465.64M351.5 470.5V465.64M368.5 470.5V465.64M385.5 470.5V465.64M401.5 470.5V465.64M418.5 470.5V465.64M434.5 470.5V465.64M451.5 470.5V465.64M467.5 470.5V465.64M484.5 470.5V465.64M500.5 470.5V465.64M517.5 470.5V465.64M533.5 470.5V465.64M550.5 470.5V465.64M566.5 470.5V465.64M583.5 470.5V465.64M599.5 470.5V465.64M616.5 470.5V465.64M632.5 470.5V465.64M649.5 470.5V465.64M665.5 470.5V465.64M682.5 470.5V465.64M698.5 470.5V465.64M715.5 470.5V465.64M732.5 470.5V465.64M748.5 470.5V465.64M765.5 470.5V465.64M781.5 470.5V465.64M798.5 470.5V465.64M814.5 470.5V465.64M831.5 470.5V465.64M847.5 470.5V465.64M864.5 470.5V465.64M880.5 470.5V465.64M897.5 470.5V465.64M913.5 470.5V465.64M930.5 470.5V465.64M946.5 470.5V465.64M963.5 470.5V465.64M979.5 470.5V465.64M996.5 470.5V465.64M1012.5 470.5V465.64M1029.5 470.5V465.64M1046.5 470.5V465.64M1062.5 470.5V465.64M1079.5 470.5V465.64M1095.5 470.5V465.64M1112.5 470.5V465.64M1128.5 470.5V465.64M1145.5 470.5V465.64M1161.5 470.5V465.64M1178.5 470.5V465.64M1194.5 470.5V465.64M1211.5 470.5V465.64M1227.5 470.5V465.64M1244.5 470.5V465.64M1260.5 470.5V465.64M1277.5 470.5V465.64M1293.5 470.5V465.64M1310.5 470.5V465.64M1326.5 470.5V465.64M1343.5 470.5V465.64M1359.5 470.5V465.64M1376.5 470.5V465.64M1393.5 470.5V465.64M1409.5 470.5V465.64M1426.5 470.5V465.64M1442.5 470.5V465.64M1459.5 470.5V465.64M1475.5 470.5V465.64M1492.5 470.5V465.64M1508.5 470.5V465.64M1525.5 470.5V465.64M1541.5 470.5V465.64M1558.5 470.5V465.64M1574.5 470.5V465.64M1591.5 470.5V465.64M1607.5 470.5V465.64M1624.5 470.5V465.64M1640.5 470.5V465.64M1657.5 470.5V465.64M1673.5 470.5V465.64M1690.5 470.5V465.64M1707.5 470.5V465.64M58.5 466.5H63.36M58.5 382.5H63.36M58.5 297.5H63.36M58.5 213.5H63.36M58.5 129.5H63.36M58.5 45.5H63.36" stroke="#000" stroke-width="1.11" fill="none"/>
<g fill="none" stroke-width="1">
<rect x="57.5" y="37.5" width="1729" height="434" stroke="#fbfbfb"/>
<rect x="58.5" y="38.5" width="1727" height="432" stroke="#bcbcbc"/>
</g>
<rect x="65.5" y="45.5" width="244" height="130" rx="2.8" fill="#eee" fill-opacity="0.8" stroke="#ccc" stroke-opacity="0.8" stroke-width="0.69"/>
<path d="M71.45 57.5H99.23" stroke="rgb(42,22,250)" stroke-width="2.78" stroke-dasharray="10.28 4.44" fill="none"/>
<circle cx="85.5" cy="57.5" r="4.86" fill="rgb(42,22,250)"/>
<path d="M71.45 77.5H98.6" stroke="rgb(30,126,22)" stroke-width="2.78" stroke-linecap="square" fill="none"/>
<circle cx="85.5" cy="77.5" r="4.86" fill="rgb(30,126,22)"/>
<rect x="71.5" y="94.5" width="27" height="10" fill="#808080" fill-opacity="0.8" stroke="#808080" stroke-opacity="0.8" stroke-width="0.69"/>
<rect x="71.5" y="115.5" width="27" height="10" fill="#808080" fill-opacity="0.6" stroke="#808080" stroke-opacity="0.6" stroke-width="0.69"/>
<rect x="71.5" y="136.5" width="27" height="10" fill="#808080" fill-opacity="0.4" stroke="#808080" stroke-opacity="0.4" stroke-width="0.69"/>
<rect x="71.5" y="157.5" width="27" height="10" fill="#808080" fill-opacity="0.2" stroke="#808080" stroke-opacity="0.2" stroke-width="0.69"/>
<g opacity="0.98">
<text x="662.45" y="29.6" font-size="20.5" textLength="519.5" lengthAdjust="spacingAndGlyphs">Electricity Demand Backtest, Historical vs Predicted</text>
<text x="843.6" y="581.5" font-size="17" textLength="154.8" lengthAdjust="spacingAndGlyphs">Time, Anonymized</text>
<text transform="translate(26.1 361.8) rotate(-90)" font-size="17" textLength="213.8" lengthAdjust="spacingAndGlyphs">Electricity Demand (kWh)</text>
<text x="45.2" y="472" font-size="14.6" textLength="8" lengthAdjust="spacingAndGlyphs">0</text>
<text x="45.2" y="388" font-size="14.6" textLength="8" lengthAdjust="spacingAndGlyphs">2</text>
<text x="45.2" y="303" font-size="14.6" textLength="8" lengthAdjust="spacingAndGlyphs">4</text>
<text x="45.2" y="219" font-size="14.6" textLength="8" lengthAdjust="spacingAndGlyphs">6</text>
<text x="45.2" y="135" font-size="14.6" textLength="8" lengthAdjust="spacingAndGlyphs">8</text>
<text x="36.8" y="51" font-size="14.6" textLength="16.4" lengthAdjust="spacingAndGlyphs">10</text>
<text x="110.1" y="62" font-size="15" textLength="159.36" lengthAdjust="spacingAndGlyphs">Historical Consumption</text>
<text x="110.1" y="83" font-size="15" textLength="175.89" lengthAdjust="spacingAndGlyphs">50th Percentile Prediction</text>
<text x="110.1" y="104" font-size="15" textLength="190.83" lengthAdjust="spacingAndGlyphs">40-60% Confidence Interval</text>
<text x="110.1" y="125" font-size="15" textLength="190.71" lengthAdjust="spacingAndGlyphs">30-70% Confidence Interval</text>
<text x="110.1" y="146" font-size="15" textLength="190.83" lengthAdjust="spacingAndGlyphs">20-80% Confidence Interval</text>
<text x="110.1" y="167" font-size="15" textLength="190.96" lengthAdjust="spacingAndGlyphs">10-90% Confidence Interval</text>
<g font-size="15">
<text transform="translate(139.63 565.4) rotate(-90)" textLength="89.4" lengthAdjust="spacingAndGlyphs">Day 1, 18:00</text>
<text transform="translate(156.16 565.4) rotate(-90)" textLength="89.4" lengthAdjust="spacingAndGlyphs">Day 1, 19:00</text>
<text transform="translate(172.68 565.4) rotate(-90)" textLength="89.4" lengthAdjust="spacingAndGlyphs">Day 1, 20:00</text>
<text transform="translate(189.21 565.4) rotate(-90)" textLength="89.4" lengthAdjust="spacingAndGlyphs">Day 1, 21:00</text>
<text transform="translate(205.73 565.4) rotate(-90)" textLength="89.4" lengthAdjust="spacingAndGlyphs">Day 1, 22:00</text>
<text transform="translate(222.26 565.4) rotate(-90)" textLength="89.4" lengthAdjust="spacingAndGlyphs">Day 1, 23:00</text>
<text transform="translate(238.78 565.4) rotate(-90)" textLength="89.4" lengthAdjust="spacingAndGlyphs">Day 1, 00:00</text>
<text transform="translate(255.31 565.4) rotate(-90)" textLength="89.4" lengthAdjust="spacingAndGlyphs">Day 1, 01:00</text>
<text transform="translate(271.83 565.4) rotate(-90)" textLength="89.4" lengthAdjust="spacingAndGlyphs">Day 1, 02:00</text>
<text transform="translate(288.36 565.4) rotate(-90)" textLength="89.4" lengthAdjust="spacingAndGlyphs">Day 2, 03:00</text>
<text transform="translate(304.88 565.4) rotate(-90)" textLength="89.4" lengthAdjust="spacingAndGlyphs">Day 2, 04:00</text>
<text transform="translate(321.41 565.4) rotate(-90)" textLength="89.4" lengthAdjust="spacingAndGlyphs">Day 2, 05:00</text>
<text transform="translate(337.93 565.4) rotate(-90)" textLength="89.4" lengthAdjust="spacingAndGlyphs">Day 2, 06:00</text>
<text transform="translate(354.46 565.4) rotate(-90)" textLength="89.4" lengthAdjust="spacingAndGlyphs">Day 2, 07:00</text>
<text transform="translate(370.98 565.4) rotate(-90)" textLength="89.4" lengthAdjust="spacingAndGlyphs">Day 2, 08:00</text>
<text transform="translate(387.51 565.4) rotate(-90)" textLength="89.4" lengthAdjust="spacingAndGlyphs">Day 2, 09:00</text>
<text transform="translate(404.03 565.4) rotate(-90)" textLength="89.4" lengthAdjust="spacingAndGlyphs">Day 2, 10:00</text>
<text transform="translate(420.56 565.4) rotate(-90)" textLength="89.4" lengthAdjust="spacingAndGlyphs">Day 2, 11:00</text>
<text transform="translate(437.08 565.4) rotate(-90)" textLength="89.4" lengthAdjust="spacingAndGlyphs">Day 2, 12:00</text>
<text transform="translate(453.61 565.4) rotate(-90)" textLength="89.4" lengthAdjust="spacingAndGlyphs">Day 2, 13:00</text>
<text transform="translate(470.13 565.4) rotate(-90)" textLength="89.4" lengthAdjust="spacingAndGlyphs">Day 2, 14:00</text>
<text transform="translate(486.66 565.4) rotate(-90)" textLength="89.4" lengthAdjust="spacingAndGlyphs">Day 2, 15:00</text>
<text transform="translate(503.18 565.4) rotate(-90)" textLength="89.4" lengthAdjust="spacingAndGlyphs">Day 2, 16:00</text>
<text transform="translate(519.71 565.4) rotate(-90)" textLength="89.4" lengthAdjust="spacingAndGlyphs">Day 2, 17:00</text>
<text transform="translate(536.23 565.4) rotate(-90)" textLength="89.4" lengthAdjust="spacingAndGlyphs">Day 2, 18:00</text>
<text transform="translate(552.76 565.4) rotate(-90)" textLength="89.4" lengthAdjust="spacingAndGlyphs">Day 2, 19:00</text>
<text transform="translate(569.28 565.4) rotate(-90)" textLength="89.4" lengthAdjust="spacingAndGlyphs">Day 2, 20:00</text>
<text transform="translate(585.81 565.4) rotate(-90)" textLength="89.4" lengthAdjust="spacingAndGlyphs">Day 2, 21:00</text>
<text transform="translate(602.33 565.4) rotate(-90)" textLength="89.4" lengthAdjust="spacingAndGlyphs">Day 2, 22:00</text>
<text transform="translate(618.86 565.4) rotate(-90)" textLength="89.4" lengthAdjust="spacingAndGlyphs">Day 2, 23:00</text>
<text transform="translate(635.38 565.4) rotate(-90)" textLength="89.4" lengthAdjust="spacingAndGlyphs">Day 2, 00:00</text>
<text transform="translate(651.91 565.4) rotate(-90)" textLength="89.4" lengthAdjust="spacingAndGlyphs">Day 2, 01:00</text>
<text transform="translate(668.43 565.4) rotate(-90)" textLength="89.4" lengthAdjust="spacingAndGlyphs">Day 2, 02:00</text>
<text transform="translate(684.96 565.4) rotate(-90)" textLength="89.4" lengthAdjust="spacingAndGlyphs">Day 3, 03:00</text>
<text transform="translate(701.48 565.4) rotate(-90)" textLength="89.4" lengthAdjust="spacingAndGlyphs">Day 3, 04:00</text>
<text transform="translate(718.01 565.4) rotate(-90)" textLength="89.4" lengthAdjust="spacingAndGlyphs">Day 3, 05:00</text>
<text transform="translate(734.53 565.4) rotate(-90)" textLength="89.4" lengthAdjust="spacingAndGlyphs">Day 3, 06:00</text>
<text transform="translate(751.06 565.4) rotate(-90)" textLength="89.4" lengthAdjust="spacingAndGlyphs">Day 3, 07:00</text>
<text transform="translate(767.58 565.4) rotate(-90)" textLength="89.4" lengthAdjust="spacingAndGlyphs">Day 3, 08:00</text>
<text transform="translate(784.11 565.4) rotate(-90)" textLength="89.4" lengthAdjust="spacingAndGlyphs">Day 3, 09:00</text>
<text transform="translate(800.63 565.4) rotate(-90)" textLength="89.4" lengthAdjust="spacingAndGlyphs">Day 3, 10:00</text>
<text transform="translate(817.16 565.4) rotate(-90)" textLength="89.4" lengthAdjust="spacingAndGlyphs">Day 3, 11:00</text>
<text transform="translate(833.68 565.4) rotate(-90)" textLength="89.4" lengthAdjust="spacingAndGlyphs">Day 3, 12:00</text>
<text transform="translate(850.21 565.4) rotate(-90)" textLength="89.4" lengthAdjust="spacingAndGlyphs">Day 3, 13:00</text>
<text transform="translate(866.73 565.4) rotate(-90)" textLength="89.4" lengthAdjust="spacingAndGlyphs">Day 3, 14:00</text>
<text transform="translate(883.26 565.4) rotate(-90)" textLength="89.4" lengthAdjust="spacingAndGlyphs">Day 3, 15:00</text>
<text transform="translate(899.78 565.4) rotate(-90)" textLength="89.4" lengthAdjust="spacingAndGlyphs">Day 3, 16:00</text>
<text transform="translate(916.31 565.4) rotate(-90)" textLength="89.4" lengthAdjust="spacingAndGlyphs">Day 3, 17:00</text>
<text transform="translate(932.83 565.4) rotate(-90)" textLength="89.4" lengthAdjust="spacingAndGlyphs">Day 3, 18:00</text>
<text transform="translate(949.36 565.4) rotate(-90)" textLength="89.4" lengthAdjust="spacingAndGlyphs">Day 3, 19:00</text>
<text transform="translate(965.88 565.4) rotate(-90)" textLength="89.4" lengthAdjust="spacingAndGlyphs">Day 3, 20:00</text>
<text transform="translate(982.41 565.4) rotate(-90)" textLength="89.4" lengthAdjust="spacingAndGlyphs">Day 3, 21:00</text>
<text transform="translate(998.93 565.4) rotate(-90)" textLength="89.4" lengthAdjust="spacingAndGlyphs">Day 3, 22:00</text>
<text transform="translate(1015.46 565.4) rotate(-90)" textLength="89.4" lengthAdjust="spacingAndGlyphs">Day 3, 23:00</text>
<text transform="translate(1031.98 565.4) rotate(-90)" textLength="89.4" lengthAdjust="spacingAndGlyphs">Day 3, 00:00</text>
<text transform="translate(1048.51 565.4) rotate(-90)" textLength="89.4" lengthAdjust="spacingAndGlyphs">Day 3, 01:00</text>
<text transform="translate(1065.03 565.4) rotate(-90)" textLength="89.4" lengthAdjust="spacingAndGlyphs">Day 3, 02:00</text>
<text transform="translate(1081.56 565.4) rotate(-90)" textLength="89.4" lengthAdjust="spacingAndGlyphs">Day 4, 03:00</text>
<text transform="translate(1098.08 565.4) rotate(-90)" textLength="89.4" lengthAdjust="spacingAndGlyphs">Day 4, 04:00</text>
<text transform="translate(1114.61 565.4) rotate(-90)" textLength="89.4" lengthAdjust="spacingAndGlyphs">Day 4, 05:00</text>
<text transform="translate(1131.13 565.4) rotate(-90)" textLength="89.4" lengthAdjust="spacingAndGlyphs">Day 4, 06:00</text>
<text transform="translate(1147.66 565.4) rotate(-90)" textLength="89.4" lengthAdjust="spacingAndGlyphs">Day 4, 07:00</text>
<text transform="translate(1164.18 565.4) rotate(-90)" textLength="89.4" lengthAdjust="spacingAndGlyphs">Day 4, 08:00</text>
<text transform="translate(1180.71 565.4) rotate(-90)" textLength="89.4" lengthAdjust="spacingAndGlyphs">Day 4, 09:00</text>
<text transform="translate(1197.23 565.4) rotate(-90)" textLength="89.4" lengthAdjust="spacingAndGlyphs">Day 4, 10:00</text>
<text transform="translate(1213.76 565.4) rotate(-90)" textLength="89.4" lengthAdjust="spacingAndGlyphs">Day 4, 11:00</text>
<text transform="translate(1230.28 565.4) rotate(-90)" textLength="89.4" lengthAdjust="spacingAndGlyphs">Day 4, 12:00</text>
<text transform="translate(1246.81 565.4) rotate(-90)" textLength="89.4" lengthAdjust="spacingAndGlyphs">Day 4, 13:00</text>
<text transform="translate(1263.33 565.4) rotate(-90)" textLength="89.4" lengthAdjust="spacingAndGlyphs">Day 4, 14:00</text>
<text transform="translate(1279.86 565.4) rotate(-90)" textLength="89.4" lengthAdjust="spacingAndGlyphs">Day 4, 15:00</text>
<text transform="translate(1296.38 565.4) rotate(-90)" textLength="89.4" lengthAdjust="spacingAndGlyphs">Day 4, 16:00</text>
<text transform="translate(1312.91 565.4) rotate(-90)" textLength="89.4" lengthAdjust="spacingAndGlyphs">Day 4, 17:00</text>
<text transform="translate(1329.43 565.4) rotate(-90)" textLength="89.4" lengthAdjust="spacingAndGlyphs">Day 4, 18:00</text>
<text transform="translate(1345.96 565.4) rotate(-90)" textLength="89.4" lengthAdjust="spacingAndGlyphs">Day 4, 19:00</text>
<text transform="translate(1362.48 565.4) rotate(-90)" textLength="89.4" lengthAdjust="spacingAndGlyphs">Day 4, 20:00</text>
<text transform="translate(1379.01 565.4) rotate(-90)" textLength="89.4" lengthAdjust="spacingAndGlyphs">Day 4, 21:00</text>
<text transform="translate(1395.53 565.4) rotate(-90)" textLength="89.4" lengthAdjust="spacingAndGlyphs">Day 4, 22:00</text>
<text transform="translate(1412.06 565.4) rotate(-90)" textLength="89.4" lengthAdjust="spacingAndGlyphs">Day 4, 23:00</text>
<text transform="translate(1428.58 565.4) rotate(-90)" textLength="89.4" lengthAdjust="spacingAndGlyphs">Day 4, 00:00</text>
<text transform="translate(1445.11 565.4) rotate(-90)" textLength="89.4" lengthAdjust="spacingAndGlyphs">Day 4, 01:00</text>
<text transform="translate(1461.63 565.4) rotate(-90)" textLength="89.4" lengthAdjust="spacingAndGlyphs">Day 4, 02:00</text>
<text transform="translate(1478.16 565.4) rotate(-90)" textLength="89.4" lengthAdjust="spacingAndGlyphs">Day 5, 03:00</text>
<text transform="translate(1494.68 565.4) rotate(-90)" textLength="89.4" lengthAdjust="spacingAndGlyphs">Day 5, 04:00</text>
<text transform="translate(1511.21 565.4) rotate(-90)" textLength="89.4" lengthAdjust="spacingAndGlyphs">Day 5, 05:00</text>
<text transform="translate(1527.73 565.4) rotate(-90)" textLength="89.4" lengthAdjust="spacingAndGlyphs">Day 5, 06:00</text>
<text transform="translate(1544.26 565.4) rotate(-90)" textLength="89.4" lengthAdjust="spacingAndGlyphs">Day 5, 07:00</text>
<text transform="translate(1560.78 565.4) rotate(-90)" textLength="89.4" lengthAdjust="spacingAndGlyphs">Day 5, 08:00</text>
<text transform="translate(1577.31 565.4) rotate(-90)" textLength="89.4" lengthAdjust="spacingAndGlyphs">Day 5, 09:00</text>
<text transform="translate(1593.83 565.4) rotate(-90)" textLength="89.4" lengthAdjust="spacingAndGlyphs">Day 5, 10:00</text>
<text transform="translate(1610.36 565.4) rotate(-90)" textLength="89.4" lengthAdjust="spacingAndGlyphs">Day 5, 11:00</text>
<text transform="translate(1626.88 565.4) rotate(-90)" textLength="89.4" lengthAdjust="spacingAndGlyphs">Day 5, 12:00</text>
<text transform="translate(1643.41 565.4) rotate(-90)" textLength="89.4" lengthAdjust="spacingAndGlyphs">Day 5, 13:00</text>
<text transform="translate(1659.93 565.4) rotate(-90)" textLength="89.4" lengthAdjust="spacingAndGlyphs">Day 5, 14:00</text>
<text transform="translate(1676.46 565.4) rotate(-90)" textLength="89.4" lengthAdjust="spacingAndGlyphs">Day 5, 15:00</text>
<text transform="translate(1692.98 565.4) rotate(-90)" textLength="89.4" lengthAdjust="spacingAndGlyphs">Day 5, 16:00</text>
<text transform="translate(1709.51 565.4) rotate(-90)" textLength="89.4" lengthAdjust="spacingAndGlyphs">Day 5, 17:00</text>
</g>
</g>
</svg></body></html>
